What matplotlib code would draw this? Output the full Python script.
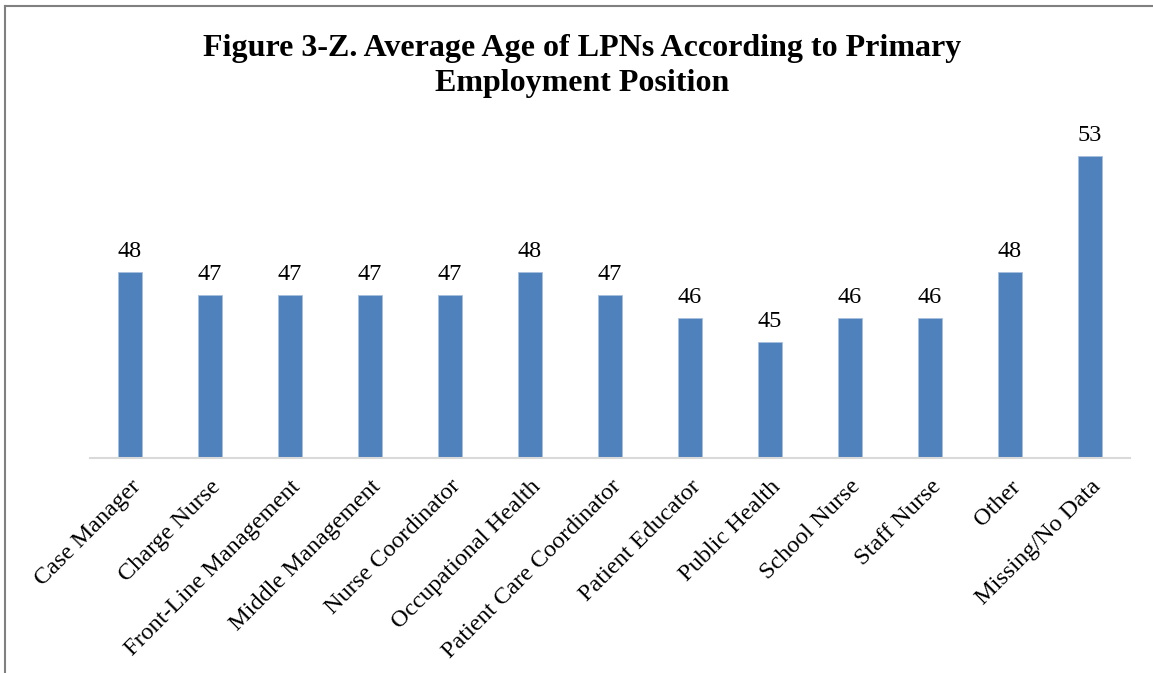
import matplotlib.pyplot as plt
from matplotlib.lines import Line2D

categories = ["Case Manager", "Charge Nurse", "Front-Line Management", "Middle Management",
              "Nurse Coordinator", "Occupational Health", "Patient Care Coordinator",
              "Patient Educator", "Public Health", "School Nurse", "Staff Nurse",
              "Other", "Missing/No Data"]
avg_age = [48, 47, 47, 47, 47, 48, 47, 46, 45, 46, 46, 48, 53]

plt.rcParams['font.family'] = ['Liberation Serif', 'DejaVu Serif']

W, H = 1153, 673
fig = plt.figure(figsize=(W / 100, H / 100), dpi=100)
ax = fig.add_axes([90 / W, 1 - 458 / H, (1130 - 90) / W, (458 - 109) / H])

x = range(len(categories))
bars = ax.bar(x, avg_age, width=0.31, bottom=0, color='#4F81BD',
              edgecolor='#A7C0DE', linewidth=0.6)
ax.set_ylim(40, 55)
ax.set_xlim(-0.5, len(categories) - 0.5)

for i, v in zip(x, avg_age):
    ax.annotate(str(v), (i, v), xytext=(0, 10), textcoords='offset pixels',
                ha='center', va='bottom', fontsize=17.5)

ax.set_yticks([])
ax.set_xticks(list(x))
ax.set_xticklabels(categories, rotation=45, ha='right', rotation_mode='anchor',
                   fontsize=17.5)
ax.tick_params(axis='x', length=0, pad=13)
for s in ['left', 'right', 'top']:
    ax.spines[s].set_visible(False)
ax.spines['bottom'].set_color('#D9D9D9')
ax.spines['bottom'].set_linewidth(1.5)

fig.text(582 / W, 1 - 66 / H, "Figure 3-Z. Average Age of LPNs According to Primary\nEmployment Position",
         ha='center', va='center', fontsize=23, fontweight='bold', linespacing=1.25)

# frame around the figure (left and top)
fig.add_artist(Line2D([5 / W, 5 / W], [0, 1 - 6 / H], transform=fig.transFigure,
                      color='#808080', linewidth=1.5))
fig.add_artist(Line2D([5 / W, 1], [1 - 6 / H, 1 - 6 / H], transform=fig.transFigure,
                      color='#808080', linewidth=1.5))

fig.savefig('out.png', dpi=100)
